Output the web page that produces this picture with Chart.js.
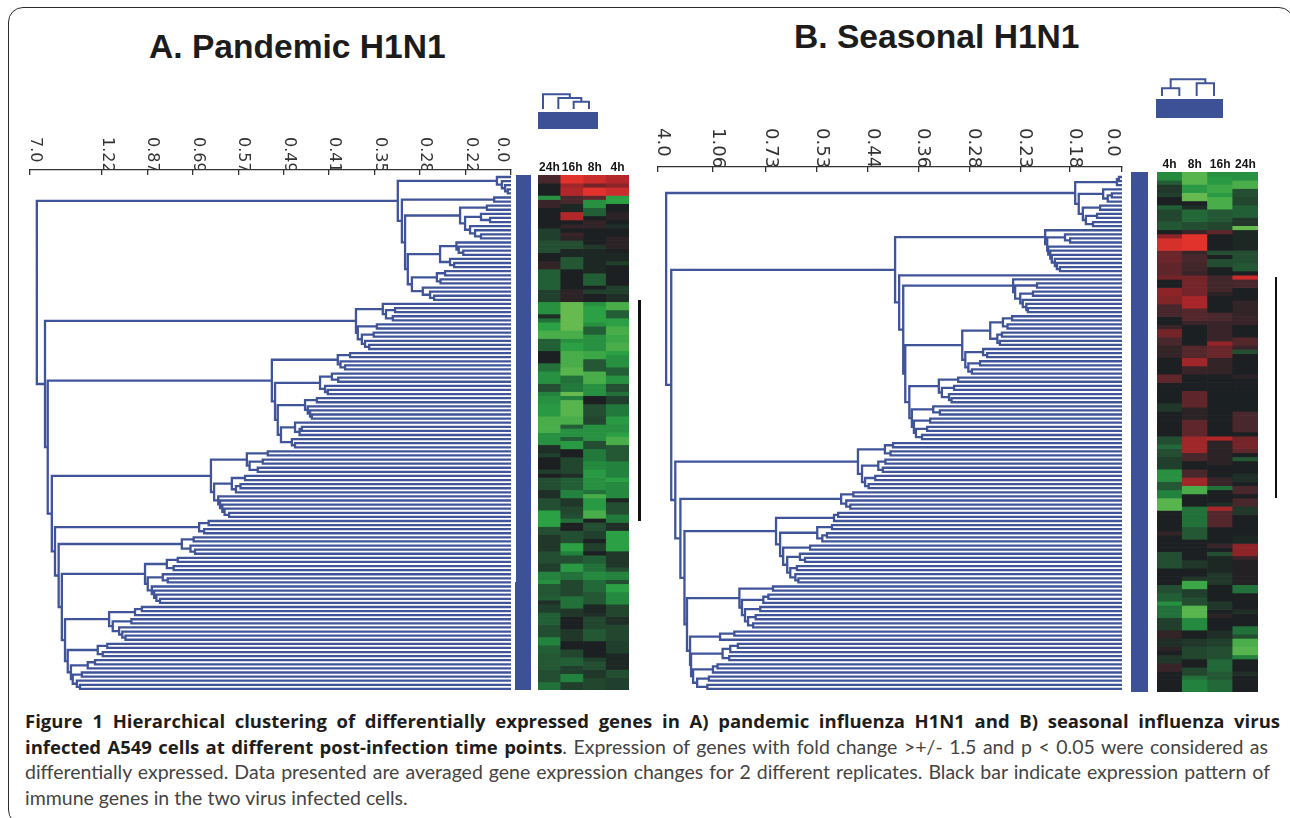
<!DOCTYPE html>
<html>
<head>
<meta charset="utf-8">
<title>Figure 1</title>
<script src="https://cdn.jsdelivr.net/npm/chart.js@4"></script>
<style>
    html, body { margin: 0; padding: 0; background: #fff; }
    #page { position: relative; width: 1290px; height: 818px; overflow: hidden; }
    #frame { position: absolute; left: 8px; top: 7px; width: 1284px; height: 816px; border: 1.7px solid #2c2c2c; border-radius: 15px; }
    canvas { position: absolute; filter: blur(0.45px); }
    canvas.heat { filter: blur(0.7px); }
    .title { position: absolute; font: bold 33.6px "Liberation Sans", Arial, sans-serif; color: #1c1c1c; white-space: nowrap; }
    .line { position: absolute; left: 25px; width: 1255px; font: 19.5px Lato, sans-serif; color: #444; white-space: nowrap; }
    .just { text-align-last: justify; white-space: normal; }
    .line b { color: #1d1d1d; font: bold 18.5px "Open Sans", sans-serif; }
</style>
</head>
<body>
<div id="page">
    <div id="frame"></div>
    <div class="title" style="left:149px; top:28px;">A. Pandemic H1N1</div>
    <div class="title" style="left:794px; top:18px;">B. Seasonal H1N1</div>
    <div class="line just" style="top:708px;"><b>Figure 1 Hierarchical clustering of differentially expressed genes in A) pandemic influenza H1N1 and B) seasonal influenza virus</b></div>
    <div class="line just" style="top:734px; width:1243px;"><b>infected A549 cells at different post-infection time points</b>. Expression of genes with fold change &gt;+/- 1.5 and p &lt; 0.05 were considered as</div>
    <div class="line just" style="top:760px; width:1245px;">differentially expressed. Data presented are averaged gene expression changes for 2 different replicates. Black bar indicate expression pattern of</div>
    <div class="line" style="top:786px;">immune genes in the two virus infected cells.</div>
</div>
<script>
// eixos: posicao do tick e texto (o "0.0" fica ao lado do ultimo tick)
const axisPosA = [0, 0.3, 1, 2, 3, 4, 5, 6, 7, 8, 9, 10.58];
const axisLabelsA = ['', '0.0', '0.22', '0.28', '0.35', '0.41', '0.49', '0.57', '0.69', '0.87', '1.22', '7.0'];
const axisPosB = [0, 0.275, 1.02, 2, 3, 4, 5, 6, 7, 8.04, 9.12];
const axisLabelsB = ['', '0.0', '0.18', '0.23', '0.28', '0.36', '0.44', '0.53', '0.73', '1.06', '4.0'];

// altura de fusao entre cada par de genes vizinhos (unidades de tick)
const mergesA = [
    0.31, 0.2, 0.13, 0.07, 2.49, 0.37, 2.4, 0.53, 1.12, 0.66, 0.46, 1.01, 0.9, 0.79, 0.66, 2.33,
    1.2, 1.15, 1.05, 1.56, 1.34, 1.25, 2.27, 1.45, 1.63, 1.55, 2.18, 1.94, 1.78, 1.69, 10.43,
    2.82, 2.55, 2.75, 2.6, 3.41, 2.95, 3.37, 3.02, 3.28, 3.21, 3.12, 10.25,
    3.54, 3.81, 3.75, 3.65, 5.26, 3.94, 3.8, 4.2, 4.09, 4.03, 5.19, 4.27, 4.53, 4.47, 4.42, 4.38, 5.13,
    4.75, 4.6, 4.65, 5.06, 4.82, 4.75, 10.19,
    5.35, 5.81, 5.46, 5.75, 5.57, 6.6, 5.85, 6.14, 5.95, 6.05, 6.53, 6.44, 6.4, 6.35, 6.3, 6.2, 10.1,
    6.65, 6.86, 6.75, 10.03,
    6.98, 7.24, 7.05, 6.95, 9.95,
    7.33, 7.57, 7.42, 8.05, 7.66, 7.55, 7.99, 7.9, 7.85, 7.8, 7.72, 9.88,
    8.12, 8.27, 8.84, 8.35, 8.76, 8.62, 8.55, 8.48, 9.81,
    8.88, 9.09, 8.98, 9.75,
    9.15, 9.31, 9.68,
    9.44, 9.64,
    9.55, 9.48
];
const mergesB = [
    0.06, 0.1, 0.92, 0.37, 0.2, 0.28, 0.85, 0.43, 0.77, 0.49, 0.71, 0.57, 8.96,
    1.51, 1.12, 1.02, 1.47, 1.45, 1.41, 1.38, 1.32, 1.28, 1.22, 4.46,
    4.38,
    2.14, 1.67, 2.1, 1.75, 2.0, 1.95, 1.88, 1.85, 4.3,
    2.16, 2.34, 2.25, 2.59, 2.36, 2.45, 2.4, 3.14, 2.73, 2.65, 3.08, 2.79, 3.02, 2.95, 4.26,
    3.22, 3.6, 3.3, 3.54, 3.4, 3.35, 4.18,
    3.71, 3.58, 4.13, 3.77, 4.09, 3.83, 4.05, 3.93, 8.86,
    4.5, 4.66, 4.55, 5.19, 4.65, 4.79, 4.7, 5.11, 4.85, 5.05, 4.98, 8.78,
    5.28, 5.52, 5.42, 5.34, 8.68,
    5.58, 5.66, 6.8, 5.7, 5.99, 5.8, 5.89, 6.72, 6.13, 6.66, 6.33, 6.23, 6.58, 6.39, 6.52, 6.42, 6.36, 8.6,
    6.86, 7.52, 6.95, 7.05, 7.47, 7.11, 7.41, 7.2, 7.35, 7.25, 8.55,
    7.62, 7.9, 8.49, 7.55, 7.7, 7.85, 7.72, 8.47,
    7.95, 8.04, 8.43, 8.12, 8.35, 8.15
];

// dendrograma das colunas
const colMergesA = [17.3, 13, 8.4];
const colMergesB = [8.7, 18.7, 14.3];

const timesA = ['24h', '16h', '8h', '4h'];
const timesB = ['4h', '8h', '16h', '24h'];

// heatmap por coluna: pares (nº de linhas, expressao) - vermelho positivo, verde negativo
const heatA24h = [2,3, 3,0, 1,-7, 2,2, 5,0, 3,-2, 3,-3, 2,0, 2,1.5, 5,-4, 3,-2, 3,-7, 1,-1, 1,-5, 2,-8, 2,-9, 3,-4, 3,0, 2,-5, 3,-7, 2,-3, 1,-6, 2,-7, 3,-7.5, 2,-9, 2,-9, 3,-7, 2,-1, 1,-2, 3,0, 1,-2, 1,0, 3,-3, 2,-1, 3,-3, 4,-8, 2,-3, 4,-1.5, 3,-3, 2,-2, 2,-6, 1,-7, 3,-3.5, 1,-4, 1,-1, 2,-2, 3,-4, 3,-3, 2,-6, 2,-4, 4,-3.5, 3,-3, 2,-5];
const heatA16h = [2,10, 1,7, 2,8, 1,3, 1,3, 2,-0.5, 2,8, 1,0, 1,1.5, 1,0, 1,2, 1,1, 2,-3, 2,-0.5, 3,-3.5, 5,0, 3,1, 7,-10, 2,-9, 1,-7, 2,-8, 4,-9, 2,-9.5, 2,-5, 2,-5.5, 1,-10, 1,-6, 4,-9.5, 2,-9, 1,-4, 2,-7, 1,-4, 2,-7.5, 2,0, 4,-2.5, 1,-1, 3,-4, 2,-6, 2,-1.5, 2,-2.5, 1,-3, 1,-5, 2,0, 3,-3, 2,-8, 1,-6, 2,-3, 2,-7.5, 2,-5, 4,-2.5, 3,-5, 2,-1.5, 3,0, 3,-1.5, 2,0, 2,-2.5, 2,-4, 2,-2, 2,-6, 2,-2];
const heatA8h = [2,9, 1,5, 2,10, 1,4, 2,-7, 2,-4, 1,0, 2,1.5, 4,0, 1,-1.5, 6,-0.5, 3,-4, 1,0, 1,-2, 2,0, 1,-7, 4,-8, 1,-7, 2,-4, 1,-7, 3,-7, 2,-8.5, 3,-3.5, 3,-9, 2,-7, 1,-7, 2,0, 3,-3, 2,-2.5, 2,-7, 2,-7, 2,-3, 3,-5.5, 2,-6.5, 2,-7.5, 3,-7, 1,-5, 1,-9, 3,-7.5, 2,-9, 1,0, 2,-3, 2,-2, 1,0, 2,-2, 1,0, 2,-4, 2,-5, 2,-6.5, 3,-4.5, 3,-3.5, 2,-0.5, 1,-1, 3,-2.5, 3,-3.5, 4,0, 1,-2, 2,-3, 2,-1.5, 3,-2.5];
const heatA4h = [2,8, 1,6, 2,9, 2,-8, 2,0, 2,1, 1,0, 1,-1, 2,0, 3,1, 1,0, 2,-0.5, 1,-2, 2,0, 3,0, 2,-2, 2,-1, 2,-9, 2,-4, 2,-8, 2,-9, 2,-8.5, 2,-9, 1,-8, 3,-7, 2,-4, 2,-7, 2,-3, 1,-5, 2,-2, 3,-5.5, 2,-7.5, 2,-7, 1,-8, 2,-9, 4,-3.5, 4,-6, 1,-8, 4,-6.5, 1,-0.5, 3,-3, 2,-5.5, 2,-1, 5,-8, 4,-1.5, 1,-3, 2,-6, 1,-3, 2,-8, 3,-6.5, 3,-2.5, 2,-1, 4,-2.5, 3,-2, 4,-0.5, 2,-3, 3,-2];
const heatB4h = [2,-6.5, 1,-4, 2,-1.5, 1,-2, 2,0, 1,-4, 3,-2.5, 2,-3.5, 1,0, 1,6, 3,9.5, 3,4.5, 3,4, 1,5, 2,0, 2,6, 2,5.5, 3,3, 2,0, 1,2, 2,5, 2,3, 3,1.5, 4,0, 2,4, 2,0, 3,0, 2,-1.5, 6,0, 2,-3, 1,-4.5, 2,-3, 3,-2, 3,-7, 2,-3.5, 2,-6, 3,-9.5, 5,0, 1,1.5, 4,0, 4,-3, 4,0, 2,-3, 2,-4, 1,-7, 3,-5, 3,-2, 2,1.5, 2,-1, 1,1, 1,0, 2,-1.5, 2,2, 5,0];
const heatB8h = [3,-9.5, 2,-7.5, 2,-10, 1,0, 1,-1, 3,-4.5, 2,-3, 1,2, 4,10, 1,2, 2,3, 2,2.5, 1,2, 3,5, 2,5, 3,7.5, 3,3.5, 1,2, 5,0, 3,3.5, 2,7, 2,2, 4,0, 4,4, 3,1, 4,4, 4,7, 2,3, 2,0, 2,3, 2,7, 2,-9, 3,0, 5,-5, 3,-3.5, 5,0, 2,-1.5, 2,0, 1,-1.5, 2,-8.5, 2,-2, 2,-3, 3,-9.5, 3,-6.5, 2,0, 2,-1.5, 3,-2.5, 2,0, 2,-2.5, 1,-5, 3,-6];
const heatB16h = [1,-7, 2,-7.5, 2,-8.5, 1,-7.5, 3,-9, 3,-3.5, 2,-2.5, 1,4, 4,0, 1,-3, 1,0, 2,-3, 2,0, 4,2.5, 1,1, 4,0, 2,3, 5,2, 1,6.5, 3,4.5, 4,1.5, 5,0, 10,0, 1,8, 6,1, 3,0, 2,2, 1,-5, 3,0, 1,-1, 1,7.5, 4,3.5, 4,0, 1,2, 1,0, 1,-3, 4,-0.5, 3,-1.5, 4,0, 2,-1.5, 1,0, 1,1, 3,0, 2,-1, 2,-2, 3,-3, 3,-4.5, 2,-3.5, 3,-4.5];
const heatB24h = [2,-7, 2,-9, 2,-3, 2,-2.5, 3,-4, 2,-1.5, 1,-10, 5,-0.5, 3,-3, 2,-3.5, 1,0, 1,9, 2,3, 3,0, 4,1.5, 2,2, 3,0, 2,3.5, 1,2, 1,-3, 5,0, 1,1, 8,0, 5,3, 1,0, 3,5, 1,4, 1,0, 1,-3.5, 3,0, 2,-1, 1,0, 2,3, 1,0, 2,3, 2,-1.5, 5,0, 2,-0.5, 3,6, 1,2, 6,0.5, 2,-5, 4,0, 1,-1, 3,0, 2,-5, 1,-3, 2,-9, 2,-9.5, 1,-6, 3,0, 1,-1, 4,0];

const BLUE = '#3d5296';
const LINE_BLUE = '#3f5499';
const INK = '#333';

const page = document.getElementById('page');

function addCanvas(left, top, width, height, cls) {
    const c = document.createElement('canvas');
    c.width = width;
    c.height = height;
    c.style.left = left + 'px';
    c.style.top = top + 'px';
    c.style.width = width + 'px';
    c.style.height = height + 'px';
    if (cls) c.className = cls;
    page.appendChild(c);
    return c;
}

const quiet = { legend: { display: false }, tooltip: { enabled: false } };

// monta a arvore a partir das alturas entre vizinhos; devolve polilinhas separadas por null
function treeLines(merges, flip) {
    const pts = [];
    const put = (h, pos) => pts.push(flip ? { x: pos, y: h } : { x: h, y: pos });
    function build(lo, hi) {
        if (lo === hi) return { h: 0, pos: lo };
        let k = lo;
        for (let i = lo; i < hi; i++) {
            if (merges[i] > merges[k]) k = i;
        }
        const a = build(lo, k);
        const b = build(k + 1, hi);
        const h = merges[k];
        put(a.h, a.pos);
        put(h, a.pos);
        put(h, b.pos);
        put(b.h, b.pos);
        pts.push({ x: null, y: null });
        return { h: h, pos: (a.pos + b.pos) / 2 };
    }
    build(0, merges.length);
    return pts;
}

function dendroChart(canvas, merges, axisPos, axisLabels, opt) {
    new Chart(canvas, {
        type: 'scatter',
        data: {
            datasets: [{
                data: treeLines(merges, false),
                showLine: true,
                borderColor: LINE_BLUE,
                borderWidth: 2.3,
                pointRadius: 0,
                spanGaps: false,
                clip: false
            }]
        },
        options: {
            responsive: false,
            animation: false,
            events: [],
            layout: { padding: { left: 10, right: 25 } },
            plugins: quiet,
            scales: {
                x: {
                    type: 'linear',
                    position: 'top',
                    reverse: true,
                    min: 0,
                    max: axisPos[axisPos.length - 1],
                    afterBuildTicks: s => { s.ticks = axisPos.map(v => ({ value: v })); },
                    afterFit: s => {
                        s.height = opt.axisHeight;
                        s.paddingLeft = 0;
                        s.paddingRight = 0;
                        s.paddingTop = 0;
                        s.paddingBottom = 0;
                    },
                    border: { display: true, color: INK, width: 1.3 },
                    grid: {
                        drawOnChartArea: false,
                        tickLength: -5,
                        lineWidth: 1.3,
                        // o tick auxiliar do rotulo "0.0" nao aparece
                        tickColor: ctx => (axisLabels[axisPos.indexOf(ctx.tick.value)] === '0.0' ? 'transparent' : INK)
                    },
                    ticks: {
                        autoSkip: false,
                        minRotation: -90,
                        maxRotation: -90,
                        padding: opt.labelPad,
                        labelOffset: opt.labelOffset,
                        color: INK,
                        font: { family: 'DejaVu Sans', size: opt.fontSize },
                        callback: v => axisLabels[axisPos.indexOf(v)]
                    }
                },
                y: { type: 'linear', display: false, reverse: true, min: opt.rowMin, max: opt.rowMax }
            }
        }
    });
}

// dendrograma pequeno em cima das colunas
function columnTree(canvas, merges) {
    new Chart(canvas, {
        type: 'scatter',
        data: {
            datasets: [{
                data: treeLines(merges, true),
                showLine: true,
                borderColor: LINE_BLUE,
                borderWidth: 2,
                pointRadius: 0,
                spanGaps: false,
                clip: false
            }]
        },
        options: {
            responsive: false,
            animation: false,
            events: [],
            layout: { padding: 2 },
            plugins: quiet,
            scales: {
                x: { type: 'linear', display: false, min: 0, max: merges.length },
                y: { type: 'linear', display: false, min: 0, max: 20 }
            }
        }
    });
}

const redStops = [[0, 28, 32, 34], [3, 72, 40, 44], [6, 140, 36, 40], [8, 178, 40, 42], [10, 226, 50, 44]];
const greenStops = [[0, 28, 32, 34], [3, 36, 78, 50], [6, 34, 130, 62], [8, 44, 160, 68], [10, 102, 186, 80]];

function heatColor(v) {
    const stops = v >= 0 ? redStops : greenStops;
    const m = Math.min(Math.abs(v), 10);
    let i = 0;
    while (i < stops.length - 2 && m > stops[i + 1][0]) i++;
    const a = stops[i], b = stops[i + 1];
    const t = (m - a[0]) / (b[0] - a[0]);
    const ch = n => Math.round(a[n] + (b[n] - a[n]) * t);
    return `rgb(${ch(1)},${ch(2)},${ch(3)})`;
}

function expandRuns(runs) {
    const out = [];
    for (let i = 0; i < runs.length; i += 2) {
        for (let j = 0; j < runs[i]; j++) out.push(runs[i + 1]);
    }
    return out;
}

function heatChart(canvas, labels, columns, labelHeight) {
    const cols = columns.map(expandRuns);
    const rows = cols[0].length;
    const datasets = [];
    for (let r = 0; r < rows; r++) {
        datasets.push({
            data: labels.map(() => 1),
            backgroundColor: cols.map(c => heatColor(c[r])),
            borderWidth: 0,
            barPercentage: 1,
            categoryPercentage: 1
        });
    }
    new Chart(canvas, {
        type: 'bar',
        data: { labels: labels, datasets: datasets },
        options: {
            responsive: false,
            animation: false,
            events: [],
            plugins: quiet,
            scales: {
                x: {
                    stacked: true,
                    position: 'top',
                    afterFit: s => {
                        s.height = labelHeight;
                        s.paddingLeft = 0;
                        s.paddingRight = 0;
                    },
                    border: { display: false },
                    grid: { display: false },
                    ticks: {
                        autoSkip: false,
                        maxRotation: 0,
                        padding: -8,
                        color: '#151515',
                        font: { family: 'Liberation Sans', weight: 'bold', size: 12 }
                    }
                },
                y: { stacked: true, display: false, reverse: true, min: 0, max: rows }
            }
        }
    });
}

// barra cheia de uma cor so
function solidBar(canvas, color) {
    new Chart(canvas, {
        type: 'bar',
        data: {
            labels: [''],
            datasets: [{ data: [1], backgroundColor: color, barPercentage: 1, categoryPercentage: 1 }]
        },
        options: {
            responsive: false,
            animation: false,
            events: [],
            plugins: quiet,
            scales: {
                x: { display: false },
                y: { display: false, min: 0, max: 1 }
            }
        }
    });
}

document.addEventListener("DOMContentLoaded", function () {
    // painel A
    dendroChart(addCanvas(20, 130, 516, 562), mergesA, axisPosA, axisLabelsA, {
        axisHeight: 40, labelPad: 38, labelOffset: -14, fontSize: 16, rowMin: -1.71, rowMax: 125.76
    });
    heatChart(addCanvas(538, 145, 91, 545, 'heat'), timesA, [heatA24h, heatA16h, heatA8h, heatA4h], 30);
    solidBar(addCanvas(516, 175, 15, 407), BLUE);
    solidBar(addCanvas(515, 582, 16, 108), BLUE);
    solidBar(addCanvas(638, 300, 3, 221), '#111');
    columnTree(addCanvas(541, 90, 50, 21), colMergesA);
    solidBar(addCanvas(538, 112, 60, 17), BLUE);

    // painel B
    dendroChart(addCanvas(648, 125, 499, 567), mergesB, axisPosB, axisLabelsB, {
        axisHeight: 42, labelPad: 44, labelOffset: -17, fontSize: 18, rowMin: -2.44, rowMax: 125.76
    });
    heatChart(addCanvas(1157, 142, 101, 550, 'heat'), timesB, [heatB4h, heatB8h, heatB16h, heatB24h], 30);
    solidBar(addCanvas(1131, 172, 17, 520), BLUE);
    solidBar(addCanvas(1275, 277, 2, 221), '#111');
    columnTree(addCanvas(1160, 76, 56, 22), colMergesB);
    solidBar(addCanvas(1156, 99, 67, 19), BLUE);
});
</script>
</body>
</html>
